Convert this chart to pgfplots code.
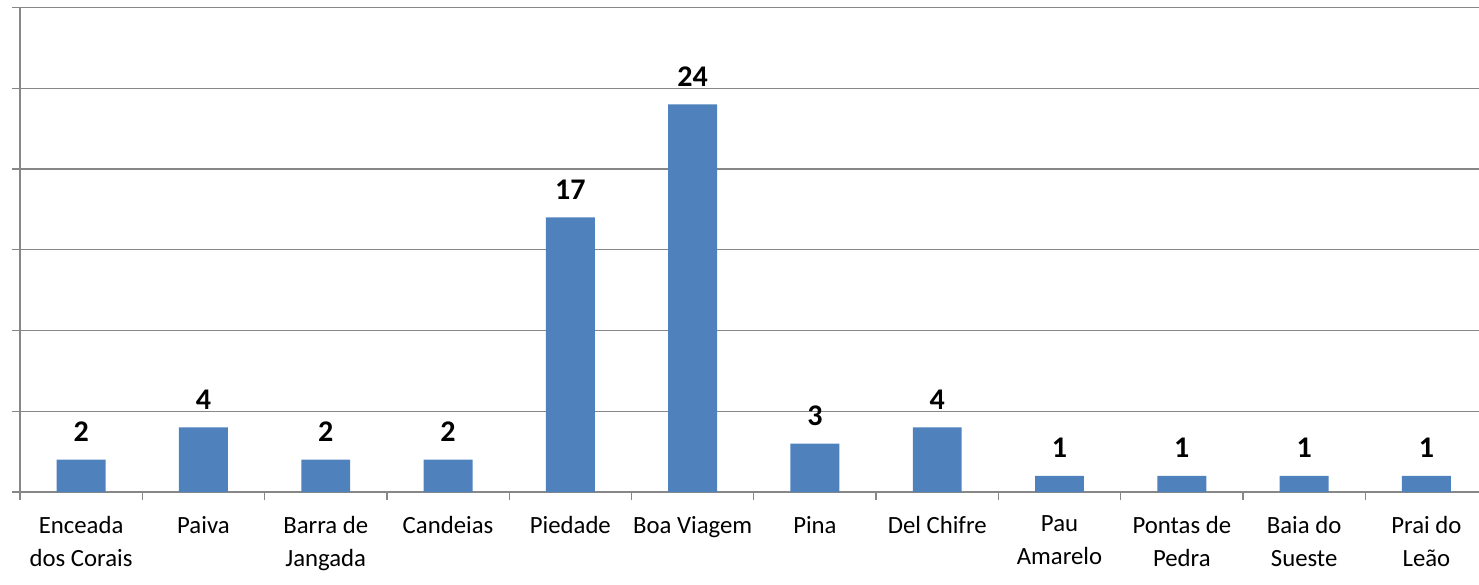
\documentclass[border=0pt]{standalone}
\usepackage{pgfplots}
\pgfplotsset{compat=1.18}
\usepackage{fontspec}
\setmainfont{Carlito}
\definecolor{barblue}{HTML}{4F81BD}
\definecolor{gridgray}{HTML}{878787}
\begin{document}
\begin{tikzpicture}
\path[use as bounding box] (-8pt,-36.8pt) rectangle (583.6pt,196.8pt);
\begin{axis}[
  at={(0,0)}, anchor=south west,
  scale only axis,
  width=583.6pt, height=193.8pt,
  xmin=-0.5, xmax=11.43,
  ymin=0, ymax=30,
  axis x line*=bottom, axis y line*=left,
  axis line style={gridgray, line width=0.55pt, -},
  ytick={0,5,10,15,20,25,30},
  yticklabels={},
  ymajorgrids,
  grid style={gridgray, line width=0.55pt},
  tick align=outside,
  major tick length=3.2pt,
  tick style={gridgray, line width=0.55pt},
  xtick={-0.5,0.5,1.5,2.5,3.5,4.5,5.5,6.5,7.5,8.5,9.5,10.5},
  xticklabels={},
  extra x ticks={0,1,2,3,4,5,6,7,8,9,10,11},
  extra x tick labels={{Enceada\\dos Corais},{Paiva},{Barra de\\Jangada},{Candeias},{Piedade},{Boa Viagem},{Pina},{Del Chifre},{Pau\\Amarelo},{Pontas de\\Pedra},{Baia do\\Sueste},{Prai do\\Leão}},
  extra x tick style={tick style={draw=none}, grid=none,
    tick label style={align=center, anchor=north, yshift=-2.9pt, font=\fontsize{9.9}{13.2}\selectfont}},
  ybar,
  bar width=0.4,
  /pgf/number format/assume math mode=true,
  nodes near coords,
  nodes near coords style={font=\bfseries\fontsize{12}{14}\selectfont, anchor=base, yshift=7.2pt, text=black},
  clip=false,
]
\addplot[fill=barblue, draw=none] coordinates {
  (0,2) (1,4) (2,2) (3,2) (4,17) (5,24) (6,3) (7,4) (8,1) (9,1) (10,1) (11,1)
};
\end{axis}
\end{tikzpicture}
\end{document}
